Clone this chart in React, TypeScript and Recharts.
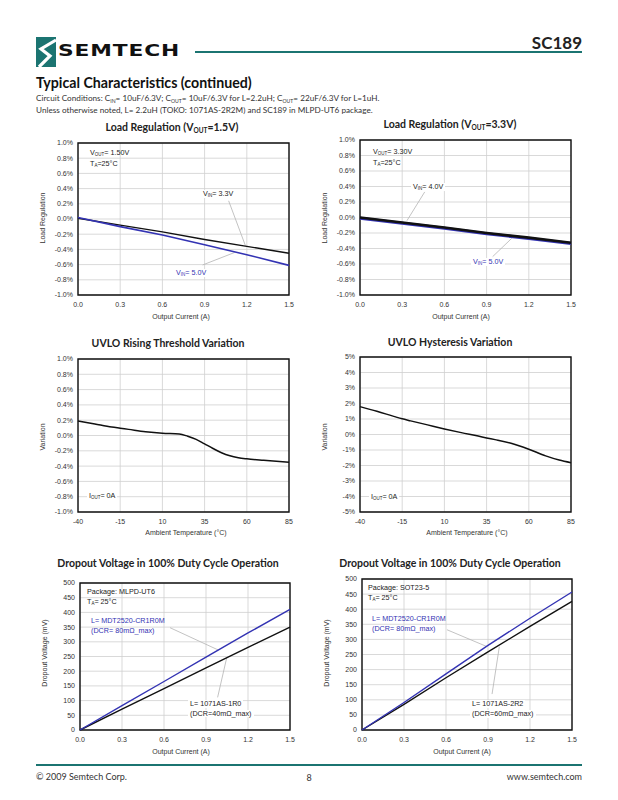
import React from 'react'
import { LineChart, Line, XAxis, YAxis, CartesianGrid, ReferenceArea, ReferenceLine } from 'recharts'

const BLUE = '#3333b3'
const TEAL = '#1b7471'
const GRID = '#cfcfcf'
const LEADER = '#b4b4b4'
const AXIS_FONT = '"Liberation Sans", Arial, sans-serif'
const PAGE_FONT = 'Lato, "Open Sans", sans-serif'

// Load regulation, VOUT = 1.5V
const lr15Current = [0, 0.3, 0.6, 0.9, 1.2, 1.5]
const lr15Vin33 = [0.01, -0.08, -0.17, -0.27, -0.36, -0.45]
const lr15Vin50 = [0.02, -0.1, -0.21, -0.34, -0.47, -0.61]

// Load regulation, VOUT = 3.3V
const lr33Current = [0, 0.3, 0.6, 0.9, 1.2, 1.5]
const lr33Vin40 = [0.0, -0.065, -0.13, -0.2, -0.26, -0.325]
const lr33Vin50 = [-0.01, -0.075, -0.14, -0.21, -0.27, -0.335]

const currentTicks = [0, 0.3, 0.6, 0.9, 1.2, 1.5]
const pctTicks = [-1, -0.8, -0.6, -0.4, -0.2, 0, 0.2, 0.4, 0.6, 0.8, 1]

// UVLO rising threshold
const risingTemp = [-40, -30, -20, -15, -10, 0, 10, 20, 25, 30, 35, 40, 45, 50, 55, 60, 70, 85]
const risingVar = [0.19, 0.15, 0.11, 0.095, 0.08, 0.05, 0.03, 0.02, -0.01, -0.05, -0.11, -0.17, -0.225, -0.265, -0.29, -0.305, -0.325, -0.35]

// UVLO hysteresis
const hystTemp = [-40, -30, -20, -15, -10, 0, 10, 20, 30, 35, 40, 50, 60, 70, 78, 85]
const hystVar = [1.8, 1.5, 1.17, 1.01, 0.88, 0.62, 0.36, 0.12, -0.1, -0.22, -0.33, -0.58, -0.95, -1.38, -1.65, -1.82]

const tempTicks = [-40, -15, 10, 35, 60, 85]
const hystTicks = [-5, -4, -3, -2, -1, 0, 1, 2, 3, 4, 5]

// Dropout voltage (mV)
const doCurrent = [0, 0.3, 0.6, 0.9, 1.2, 1.5]
const doMlpdMdt = [0, 83, 165, 248, 330, 410]
const doMlpd1r0 = [0, 71, 141, 211, 281, 350]
const doSotMdt = [0, 91, 186, 280, 370, 457]
const doSot2r2 = [0, 85, 173, 259, 343, 426]
const mvTicks = [0, 50, 100, 150, 200, 250, 300, 350, 400, 450, 500]

type Row = Record<string, number>
function rows(x: number[], cols: Record<string, number[]>): Row[] {
  return x.map((v, i) => {
    const r: Row = { x: v }
    for (const k in cols) r[k] = cols[k][i]
    return r
  })
}

type Series = { key: string; color: string; width: number; curve?: 'linear' | 'monotone' }

type PlotProps = {
  left: number
  top: number
  w: number
  h: number
  data: Row[]
  series: Series[]
  xDomain: [number, number]
  xTicks: number[]
  yDomain: [number, number]
  yTicks: number[]
  fmtX: (v: number) => string
  fmtY: (v: number) => string
  leaders?: [number, number, number, number][]
}

const tickStyle = { fontSize: 7, fill: '#333', fontFamily: AXIS_FONT }

function Plot(p: PlotProps) {
  return (
    <div style={{ position: 'absolute', left: p.left - 50, top: p.top - 10 }}>
      <LineChart width={p.w + 64} height={p.h + 40} data={p.data} margin={{ top: 10, right: 14, bottom: 10, left: 10 }}>
        <CartesianGrid stroke={GRID} strokeWidth={0.8} />
        <XAxis
          type="number"
          dataKey="x"
          domain={p.xDomain}
          ticks={p.xTicks}
          interval={0}
          tickFormatter={p.fmtX}
          axisLine={false}
          tickLine={false}
          tickSize={0}
          tickMargin={7}
          height={20}
          tick={tickStyle}
        />
        <YAxis
          type="number"
          domain={p.yDomain}
          ticks={p.yTicks}
          interval={0}
          tickFormatter={p.fmtY}
          axisLine={false}
          tickLine={false}
          tickSize={0}
          tickMargin={5}
          width={40}
          tick={tickStyle}
        />
        {(p.leaders || []).map((l, i) => (
          <ReferenceLine
            key={i}
            segment={[{ x: l[0], y: l[1] }, { x: l[2], y: l[3] }]}
            stroke={LEADER}
            strokeWidth={0.8}
          />
        ))}
        {p.series.map((s) => (
          <Line
            key={s.key}
            dataKey={s.key}
            type={s.curve || 'linear'}
            stroke={s.color}
            strokeWidth={s.width}
            dot={false}
            activeDot={false}
            isAnimationActive={false}
          />
        ))}
        <ReferenceArea
          x1={p.xDomain[0]}
          x2={p.xDomain[1]}
          y1={p.yDomain[0]}
          y2={p.yDomain[1]}
          fill="none"
          stroke="#111"
          strokeWidth={1.4}
        />
      </LineChart>
    </div>
  )
}

type TxtProps = {
  x: number
  y: number
  size: number
  children: React.ReactNode
  color?: string
  bold?: boolean
  font?: string
  align?: 'left' | 'center' | 'right'
  rotate?: boolean
  bg?: boolean
  spacing?: number
  sx?: number
}

function Txt({ x, y, size, children, color = '#222', bold, font = AXIS_FONT, align = 'left', rotate, bg, spacing, sx }: TxtProps) {
  const tx = align === 'center' ? '-50%' : align === 'right' ? '-100%' : '0'
  return (
    <div
      style={{
        position: 'absolute',
        left: x,
        top: y,
        transform: `translate(${rotate ? '-50%' : tx}, -50%)${rotate ? ' rotate(-90deg)' : ''}${sx ? ` scaleX(${sx})` : ''}`,
        transformOrigin: sx ? 'left center' : undefined,
        whiteSpace: 'nowrap',
        fontSize: size,
        lineHeight: 1.1,
        fontFamily: font,
        fontWeight: bold ? 700 : 400,
        color,
        background: bg ? '#fff' : undefined,
        padding: bg ? '0 2px' : undefined,
        letterSpacing: spacing,
      }}
    >
      {children}
    </div>
  )
}

const Sub = ({ children }: { children: React.ReactNode }) => (
  <sub style={{ fontSize: '0.62em', verticalAlign: '-0.2em', lineHeight: 0 }}>{children}</sub>
)

const fmtCur = (v: number) => v.toFixed(1)
const fmtPct1 = (v: number) => `${v.toFixed(1)}%`
const fmtPct0 = (v: number) => `${v}%`
const fmtMv = (v: number) => `${v}`

function Title({ x, y, children }: { x: number; y: number; children: React.ReactNode }) {
  return (
    <Txt x={x} y={y} size={10.5} bold font={PAGE_FONT} align="center">
      {children}
    </Txt>
  )
}

export default function App() {
  const lr15 = rows(lr15Current, { a: lr15Vin33, b: lr15Vin50 })
  const lr33 = rows(lr33Current, { a: lr33Vin40, b: lr33Vin50 })
  const rising = rows(risingTemp, { a: risingVar })
  const hyst = rows(hystTemp, { a: hystVar })
  const doMlpd = rows(doCurrent, { a: doMlpd1r0, b: doMlpdMdt })
  const doSot = rows(doCurrent, { a: doSot2r2, b: doSotMdt })

  return (
    <div style={{ position: 'absolute', left: 0, top: 0, width: 618, height: 800, background: '#fff', overflow: 'hidden' }}>
      {/* header */}
      <svg style={{ position: 'absolute', left: 36, top: 37 }} width={20} height={30} viewBox="0 0 20 30">
        <rect x={0} y={0} width={20} height={30} fill={TEAL} />
        <path d="M20 3 L5 12 L14 19 L3 30" stroke="#fff" strokeWidth={3.2} fill="none" />
      </svg>
      <Txt x={58} y={51} size={15} bold font='"DejaVu Sans", sans-serif' spacing={0.6} color="#111" sx={1.45}>
        SEMTECH
      </Txt>
      <div style={{ position: 'absolute', left: 195, top: 51, width: 387, height: 2, background: TEAL }} />
      <Txt x={582} y={43} size={17} bold font={PAGE_FONT} align="right" color="#222">
        SC189
      </Txt>
      <Txt x={36} y={83} size={14.2} bold font={PAGE_FONT} color="#111">
        Typical Characteristics (continued)
      </Txt>
      <Txt x={36} y={99} size={8.2} font={PAGE_FONT} color="#333">
        Circuit Conditions: C<Sub>IN</Sub>= 10uF/6.3V; C<Sub>OUT</Sub>= 10uF/6.3V for L=2.2uH; C<Sub>OUT</Sub>= 22uF/6.3V for L=1uH.
      </Txt>
      <Txt x={36} y={111} size={8.2} font={PAGE_FONT} color="#333">
        Unless otherwise noted, L= 2.2uH (TOKO: 1071AS-2R2M) and SC189 in MLPD-UT6 package.
      </Txt>

      {/* Load regulation 1.5V */}
      <Title x={172} y={128}>
        Load Regulation (V<Sub>OUT</Sub>=1.5V)
      </Title>
      <Plot
        left={78}
        top={143}
        w={211}
        h={152}
        data={lr15}
        series={[
          { key: 'a', color: '#111', width: 1.4 },
          { key: 'b', color: BLUE, width: 1.6 },
        ]}
        xDomain={[0, 1.5]}
        xTicks={currentTicks}
        yDomain={[-1, 1]}
        yTicks={pctTicks}
        fmtX={fmtCur}
        fmtY={fmtPct1}
        leaders={[
          [1.071, 0.239, 1.19, -0.35],
          [0.886, -0.605, 1.114, -0.44],
        ]}
      />
      <Txt x={43} y={218} size={7} rotate color="#333">Load Regulation</Txt>
      <Txt x={181} y={317} size={7} align="center" color="#333">Output Current (A)</Txt>
      <Txt x={90} y={153} size={7.2}>V<Sub>OUT</Sub>= 1.50V</Txt>
      <Txt x={90} y={163.5} size={7.2}>T<Sub>A</Sub>=25°C</Txt>
      <Txt x={201} y={194} size={7.2} bg>V<Sub>IN</Sub>= 3.3V</Txt>
      <Txt x={174} y={273} size={7.2} bg color={BLUE}>V<Sub>IN</Sub>= 5.0V</Txt>

      {/* Load regulation 3.3V */}
      <Title x={450} y={125}>
        Load Regulation (V<Sub>OUT</Sub>=3.3V)
      </Title>
      <Plot
        left={360}
        top={140}
        w={211}
        h={155}
        data={lr33}
        series={[
          { key: 'b', color: BLUE, width: 3 },
          { key: 'a', color: '#111', width: 2.6 },
        ]}
        xDomain={[0, 1.5]}
        xTicks={currentTicks}
        yDomain={[-1, 1]}
        yTicks={pctTicks}
        fmtX={fmtCur}
        fmtY={fmtPct1}
        leaders={[
          [0.46, 0.33, 0.334, -0.04],
          [0.943, -0.505, 1.078, -0.27],
        ]}
      />
      <Txt x={325} y={218} size={7} rotate color="#333">Load Regulation</Txt>
      <Txt x={461} y={317} size={7} align="center" color="#333">Output Current (A)</Txt>
      <Txt x={373} y={152} size={7.2}>V<Sub>OUT</Sub>= 3.30V</Txt>
      <Txt x={373} y={163} size={7.2}>T<Sub>A</Sub>=25°C</Txt>
      <Txt x={411} y={187} size={7.2} bg>V<Sub>IN</Sub>= 4.0V</Txt>
      <Txt x={471} y={262} size={7.2} bg color={BLUE}>V<Sub>IN</Sub>= 5.0V</Txt>

      {/* UVLO rising */}
      <Title x={168} y={344}>UVLO Rising Threshold Variation</Title>
      <Plot
        left={78}
        top={359}
        w={211}
        h={153}
        data={rising}
        series={[{ key: 'a', color: '#111', width: 1.5, curve: 'monotone' }]}
        xDomain={[-40, 85]}
        xTicks={tempTicks}
        yDomain={[-1, 1]}
        yTicks={pctTicks}
        fmtX={fmtMv}
        fmtY={fmtPct1}
      />
      <Txt x={43} y={437} size={7} rotate color="#333">Variation</Txt>
      <Txt x={186} y={533} size={7} align="center" color="#333">Ambient Temperature (°C)</Txt>
      <Txt x={87} y={496} size={7.2} bg>I<Sub>OUT</Sub>= 0A</Txt>

      {/* UVLO hysteresis */}
      <Title x={450} y={343}>UVLO Hysteresis Variation</Title>
      <Plot
        left={360}
        top={357}
        w={211}
        h={155}
        data={hyst}
        series={[{ key: 'a', color: '#111', width: 1.5, curve: 'monotone' }]}
        xDomain={[-40, 85]}
        xTicks={tempTicks}
        yDomain={[-5, 5]}
        yTicks={hystTicks}
        fmtX={fmtMv}
        fmtY={fmtPct0}
      />
      <Txt x={325} y={437} size={7} rotate color="#333">Variation</Txt>
      <Txt x={467} y={533} size={7} align="center" color="#333">Ambient Temperature (°C)</Txt>
      <Txt x={369} y={497} size={7.2} bg>I<Sub>OUT</Sub>= 0A</Txt>

      {/* Dropout MLPD-UT6 */}
      <Title x={168} y={564}>Dropout Voltage in 100% Duty Cycle Operation</Title>
      <Plot
        left={80}
        top={583}
        w={210}
        h={147}
        data={doMlpd}
        series={[
          { key: 'a', color: '#111', width: 1.4 },
          { key: 'b', color: BLUE, width: 1.4 },
        ]}
        xDomain={[0, 1.5]}
        xTicks={currentTicks}
        yDomain={[0, 500]}
        yTicks={mvTicks}
        fmtX={fmtCur}
        fmtY={fmtMv}
        leaders={[
          [0.643, 348, 0.988, 272],
          [0.983, 111, 1.048, 246],
        ]}
      />
      <Txt x={45} y={653} size={7} rotate color="#333">Dropout Voltage (mV)</Txt>
      <Txt x={181} y={752} size={7} align="center" color="#333">Output Current (A)</Txt>
      <Txt x={87} y={592} size={7.2}>Package: MLPD-UT6</Txt>
      <Txt x={87} y={602} size={7.2}>T<Sub>A</Sub>= 25°C</Txt>
      <Txt x={91} y={621} size={7.2} color={BLUE}>L= MDT2520-CR1R0M</Txt>
      <Txt x={91} y={630.5} size={7.2} color={BLUE}>(DCR= 80mΩ_max)</Txt>
      <Txt x={188} y={704} size={7.2} bg>L= 1071AS-1R0</Txt>
      <Txt x={188} y={713.5} size={7.2} bg>(DCR=40mΩ_max)</Txt>

      {/* Dropout SOT23-5 */}
      <Title x={450} y={564}>Dropout Voltage in 100% Duty Cycle Operation</Title>
      <Plot
        left={362}
        top={579}
        w={210}
        h={151}
        data={doSot}
        series={[
          { key: 'a', color: '#111', width: 1.4 },
          { key: 'b', color: BLUE, width: 1.4 },
        ]}
        xDomain={[0, 1.5]}
        xTicks={currentTicks}
        yDomain={[0, 500]}
        yTicks={mvTicks}
        fmtX={fmtCur}
        fmtY={fmtMv}
        leaders={[
          [0.607, 332, 0.893, 276],
          [0.929, 119, 0.981, 276],
        ]}
      />
      <Txt x={327} y={653} size={7} rotate color="#333">Dropout Voltage (mV)</Txt>
      <Txt x={462} y={752} size={7} align="center" color="#333">Output Current (A)</Txt>
      <Txt x={368} y={588} size={7.2}>Package: SOT23-5</Txt>
      <Txt x={368} y={598} size={7.2}>T<Sub>A</Sub>= 25°C</Txt>
      <Txt x={372} y={619} size={7.2} color={BLUE}>L= MDT2520-CR1R0M</Txt>
      <Txt x={372} y={629} size={7.2} color={BLUE}>(DCR= 80mΩ_max)</Txt>
      <Txt x={470} y={704} size={7.2} bg>L= 1071AS-2R2</Txt>
      <Txt x={470} y={714} size={7.2} bg>(DCR=60mΩ_max)</Txt>

      {/* footer */}
      <div style={{ position: 'absolute', left: 36, top: 764, width: 546, height: 2, background: TEAL }} />
      <Txt x={36} y={777} size={9} font={PAGE_FONT} color="#333">© 2009 Semtech Corp.</Txt>
      <Txt x={309} y={778} size={9} font={PAGE_FONT} align="center" color="#333">8</Txt>
      <Txt x={582} y={777} size={9} font={PAGE_FONT} align="right" color="#333">www.semtech.com</Txt>
    </div>
  )
}
